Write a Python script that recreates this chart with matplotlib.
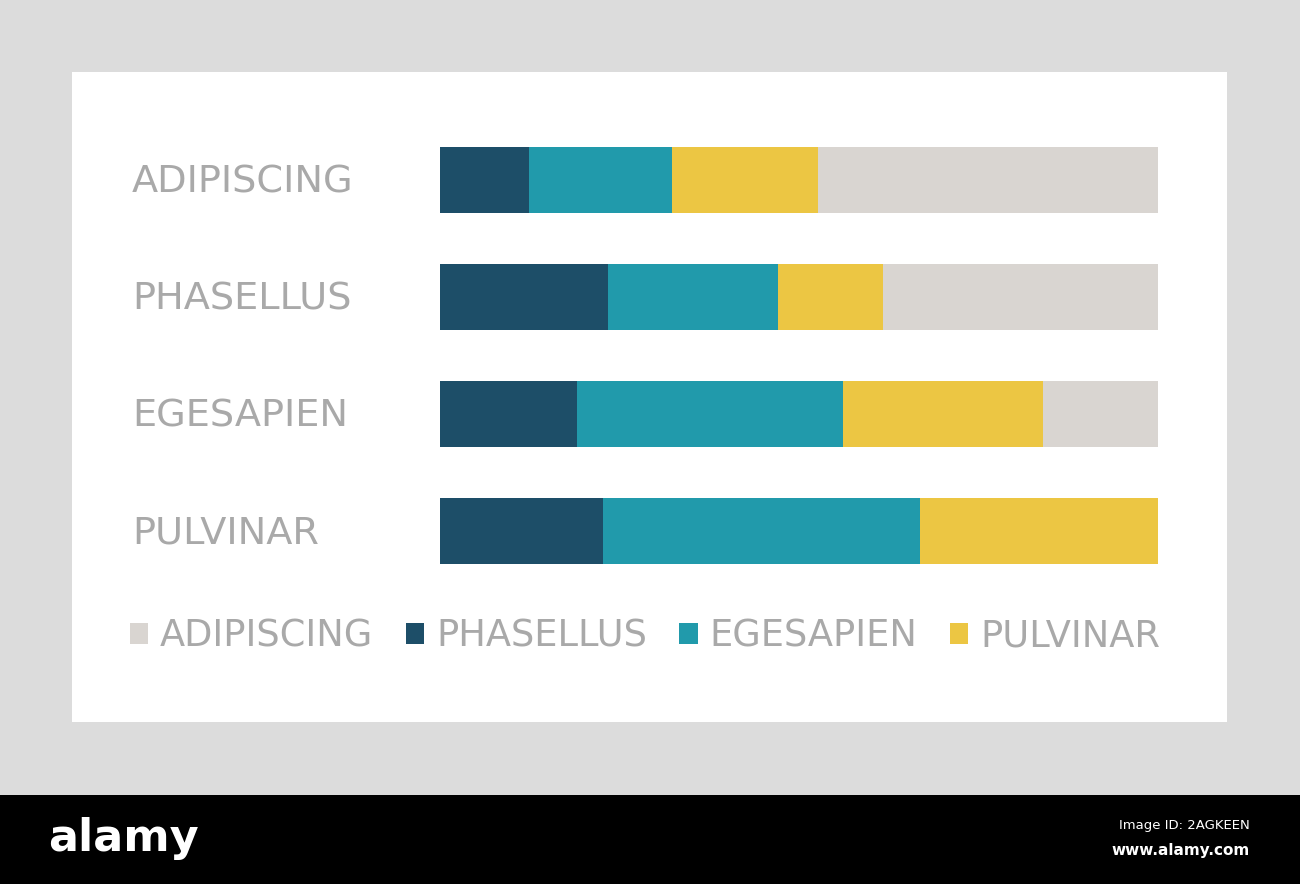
import matplotlib.pyplot as plt
import matplotlib.patches as mpatches
import matplotlib.transforms as mtransforms

# === Data (percent of each bar) ===
categories = ["ADIPISCING", "PHASELLUS", "EGESAPIEN", "PULVINAR"]
series_names = ["ADIPISCING", "PHASELLUS", "EGESAPIEN", "PULVINAR"]
phasellus = [12.4, 23.4, 19.1, 22.7]
egesapien = [19.9, 23.7, 37.0, 44.2]
pulvinar = [20.3, 14.6, 27.9, 33.1]
adipiscing = [47.4, 38.3, 16.0, 0.0]

colors = {
    "ADIPISCING": "#d9d5d1",
    "PHASELLUS": "#1d4e68",
    "EGESAPIEN": "#219aab",
    "PULVINAR": "#ecc643",
}
text_grey = "#a9a9a9"

W, H = 1300, 884
fig = plt.figure(figsize=(W / 100, H / 100), dpi=100, facecolor="#dcdcdc")

# white panel + black footer
fig.patches.append(mpatches.Rectangle((72 / W, 1 - 722 / H), 1155 / W, 650 / H,
                                      transform=fig.transFigure, facecolor="white",
                                      edgecolor="none", zorder=-5))
fig.patches.append(mpatches.Rectangle((0, 0), 1, 89 / H, transform=fig.transFigure,
                                      facecolor="black", edgecolor="none", zorder=-5))

# === Bars ===
ax = fig.add_axes([440 / W, 1 - 589.5 / H, 718 / W, 468 / H])
ax.set_zorder(2)
ax.set_facecolor("none")
ypos = list(range(len(categories)))
left = [0.0] * len(categories)
handles = {}
for name, vals in [("PHASELLUS", phasellus), ("EGESAPIEN", egesapien),
                   ("PULVINAR", pulvinar), ("ADIPISCING", adipiscing)]:
    bars = ax.barh(ypos, vals, left=left, height=66 / 117, color=colors[name],
                   edgecolor="none")
    handles[name] = bars
    left = [l + v for l, v in zip(left, vals)]

ax.set_xlim(0, 100)
ax.set_ylim(3.5, -0.5)
ax.axis("off")

# category labels (left aligned)
trans = mtransforms.blended_transform_factory(fig.transFigure, ax.transData)
for y, cat in zip(ypos, categories):
    fig.text(132 / W, y + 0.02, cat, transform=trans, ha="left", va="center",
             fontsize=27.5, color=text_grey)

# === Legend ===
leg = fig.legend([handles[n] for n in series_names], series_names,
                 loc="center left", bbox_to_anchor=(130 / W, 1 - 636 / H),
                 ncol=4, frameon=False, fontsize=26.5, labelcolor=text_grey,
                 handlelength=0.5, handleheight=0.5, handletextpad=0.32,
                 columnspacing=0.88, borderaxespad=0, borderpad=0)

# === Footer ===
fig.text(48 / W, 1 - 838 / H, "alamy", color="white", fontsize=32,
         fontweight="bold", ha="left", va="center")
fig.text(1250 / W, 1 - 826 / H, "Image ID: 2AGKEEN", color="white", fontsize=9.5,
         ha="right", va="center")
fig.text(1250 / W, 1 - 851 / H, "www.alamy.com", color="white", fontsize=11,
         fontweight="bold", ha="right", va="center")

fig.savefig("out.png", dpi=100, facecolor=fig.get_facecolor())
